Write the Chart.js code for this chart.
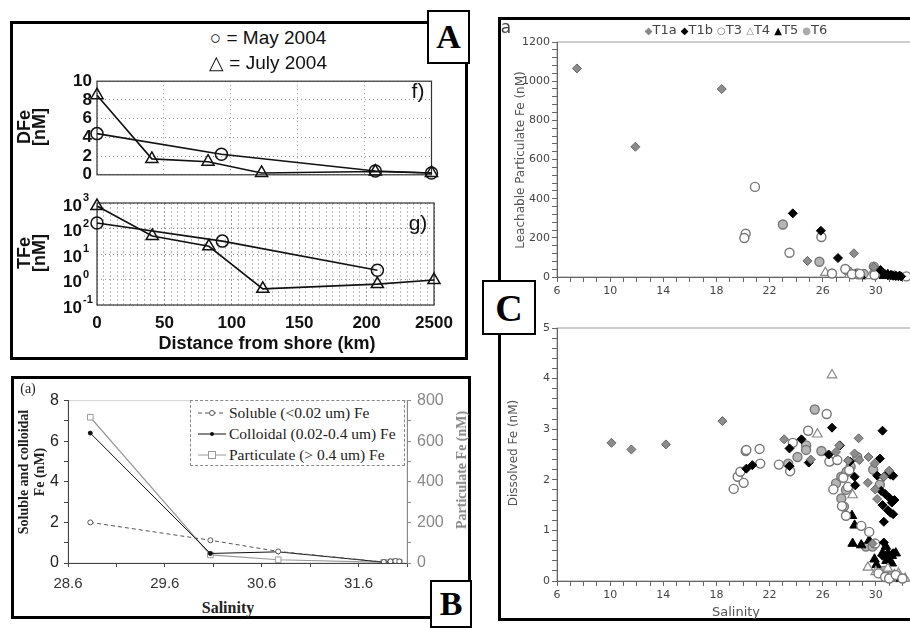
<!DOCTYPE html>
<html>
<head>
<meta charset="utf-8">
<script src="https://cdn.jsdelivr.net/npm/chart.js@4.4.1/dist/chart.umd.min.js"></script>
<style>
  body { margin: 0; background: #fff; }
  #page { position: relative; width: 910px; height: 628px; overflow: hidden; background: #fff; }
  canvas { position: absolute; }
  .box { position: absolute; border: 3px solid #000; box-sizing: border-box; }
  .tag { position: absolute; border: 2px solid #000; background: #fff; box-sizing: border-box; z-index: 5;
         font: bold 34px "Liberation Serif", serif; display: flex; align-items: center; justify-content: center; }
  .t { position: absolute; white-space: nowrap; transform: translate(-50%, -50%); text-align: center; z-index: 4; }
  .rot { transform: translate(-50%, -50%) rotate(-90deg); }
  .hel { font-family: "Liberation Sans", Arial, sans-serif; color: #111; }
  .tim { font-family: "Liberation Serif", serif; color: #222; }
  .ver { font-family: "DejaVu Sans", Verdana, sans-serif; color: #444; }
  #blegend { position: absolute; left: 190px; top: 400px; width: 215px; height: 66px; box-sizing: border-box;
             border: 1.5px dashed #888; font: 15.5px "Liberation Serif", serif; color: #222; padding: 1px 0 0 7px;
             white-space: nowrap; background: #fff; }
  #blegend div { height: 21px; display: flex; align-items: center; }
  #blegend svg { margin-right: 3px; }
</style>
</head>
<body>
<div id="page">
  <div class="box" style="left:10px;top:21px;width:458px;height:339px"></div>
  <div class="box" style="left:11px;top:376px;width:460px;height:243px"></div>
  <div class="box" style="left:498px;top:17px;width:430px;height:604px"></div>

  <canvas id="cf" width="420" height="124" style="left:20px;top:66px"></canvas>
  <canvas id="cg" width="444" height="155" style="left:20px;top:190px"></canvas>
  <canvas id="cb" width="460" height="208" style="left:12px;top:385px"></canvas>
  <canvas id="cc1" width="440" height="272" style="left:499px;top:30px"></canvas>
  <canvas id="cc2" width="440" height="290" style="left:499px;top:316px"></canvas>

  <!-- panel A texts -->
  <div class="t hel" style="left:268px;top:38px;font-size:19px">○ = May 2004</div>
  <div class="t hel" style="left:268px;top:62px;font-size:19px">△ = July 2004</div>
  <div class="t hel" style="left:418px;top:91px;font-size:21px">f)</div>
  <div class="t hel" style="left:418px;top:223px;font-size:21px">g)</div>
  <div class="t hel rot" style="left:32px;top:127px;font-weight:bold;font-size:18px;line-height:15px">DFe<br>[nM]</div>
  <div class="t hel rot" style="left:32px;top:253px;font-weight:bold;font-size:18px;line-height:15px">TFe<br>[nM]</div>
  <div class="t hel" style="left:267px;top:343px;font-weight:bold;font-size:18px">Distance from shore (km)</div>

  <!-- panel B texts -->
  <div class="t tim" style="left:28px;top:389px;font-size:14px">(a)</div>
  <div class="t tim rot" style="left:32px;top:472px;font-weight:bold;font-size:14px;line-height:16px">Soluble and colloidal<br>Fe (nM)</div>
  <div class="t tim rot" style="left:462px;top:470px;font-weight:bold;font-size:14px;color:#888">Particulate Fe (nM)</div>
  <div class="t tim" style="left:228px;top:608px;font-weight:bold;font-size:16px">Salinity</div>
  <div id="blegend">
    <div><svg width="28" height="10"><line x1="0" y1="5" x2="28" y2="5" stroke="#555" stroke-width="1" stroke-dasharray="4,3"/><circle cx="14" cy="5" r="2.5" fill="#fff" stroke="#555"/></svg>Soluble (&lt;0.02 um) Fe</div>
    <div><svg width="28" height="10"><line x1="0" y1="5" x2="28" y2="5" stroke="#111" stroke-width="1"/><circle cx="14" cy="5" r="2" fill="#111"/></svg>Colloidal (0.02-0.4 um) Fe</div>
    <div><svg width="28" height="10"><line x1="0" y1="5" x2="28" y2="5" stroke="#999" stroke-width="1"/><rect x="10.5" y="1.5" width="7" height="7" fill="#fff" stroke="#999"/></svg>Particulate (&gt; 0.4 um) Fe</div>
  </div>

  <!-- panel C texts -->
  <div class="t ver" style="left:506px;top:27px;font-size:17px">a</div>
  <div class="t ver" style="left:736px;top:29px;font-size:13px">
    <span style="color:#888;font-size:10px">◆</span>T1a <span style="color:#000;font-size:10px">◆</span>T1b
    <span style="color:#777;font-size:10px">○</span>T3 <span style="color:#888;font-size:10px">△</span>T4
    <span style="color:#000;font-size:10px">▲</span>T5 <span style="color:#aaa;font-size:10px">●</span>T6
  </div>
  <div class="t ver rot" style="left:520px;top:160px;font-size:12px;color:#555">Leachable Particulate Fe (nM)</div>
  <div class="t ver rot" style="left:513px;top:453px;font-size:12px;color:#555">Dissolved Fe (nM)</div>
  <div class="t ver" style="left:736px;top:611px;font-size:13px;color:#555">Salinity</div>

  <div class="tag" style="left:427px;top:10px;width:43px;height:54px">A</div>
  <div class="tag" style="left:430px;top:580px;width:42px;height:48px">B</div>
  <div class="tag" style="left:482px;top:280px;width:54px;height:55px;font-size:38px">C</div>
</div>

<script>
// ---- panel A: distance from shore ----
const distTickVals = [0, 50, 100, 150, 200, 250];
const distTickLabels = ['0', '50', '100', '150', '200', '2500'];
const dfeTicks = [0, 2, 4, 6, 8, 10];
const tfeTickVals = [0.1, 1, 10, 100, 1000];
const tfeTickExp = ['-1', '0', '1', '2', '3'];

const mayDFe = [[0, 4.4], [93, 2.2], [208, 0.4], [250, 0.2]];
const julyDFe = [[0, 8.5], [41, 1.7], [83, 1.4], [123, 0.2], [208, 0.35], [250, 0.2]];
const mayTFe = [[0, 165], [93, 32], [208, 2.3]];
const julyTFe = [[0, 760], [41, 51], [83, 20], [123, 0.43], [208, 0.66], [250, 0.95]];

// ---- panel B: size fractions vs salinity ----
const salTicks = [28.6, 29.1, 29.6, 30.1, 30.6, 31.1, 31.6, 32.1];
const salLabels = [28.6, 29.6, 30.6, 31.6];
const solColTicks = [0, 1, 2, 3, 4, 5, 6, 7, 8];
const solColLabels = [0, 2, 4, 6, 8];
const partTicks = [0, 100, 200, 300, 400, 500, 600, 700, 800];
const partLabels = [0, 200, 400, 600, 800];

const solubleFe = [[28.83, 2.0], [30.07, 1.12], [30.77, 0.57], [31.86, 0.05], [31.93, 0.08], [31.98, 0.1], [32.02, 0.08]];
const colloidalFe = [[28.83, 6.4], [30.07, 0.47], [30.77, 0.55], [31.86, 0.04], [31.93, 0.06], [31.98, 0.07], [32.02, 0.05]];
const particulateFe = [[28.83, 718], [30.07, 40], [30.77, 16], [31.86, 3], [31.93, 5], [31.98, 6], [32.02, 4]];

// ---- panel C: stations T1a..T6, [salinity, Fe] ----
const t1aPart = [[7.5, 1065], [11.9, 665], [18.4, 960], [24.85, 82], [28.35, 121], [29.85, 50]];
const t1bPart = [[23.75, 325], [25.86, 236], [27.15, 97], [30.35, 36], [30.7, 14], [30.9, 9], [31.1, 10], [31.3, 6], [31.5, 5], [31.7, 4], [31.9, 3]];
const t3Part = [[20.9, 460], [20.2, 221], [20.1, 199], [23.5, 124], [25.9, 204], [26.7, 18], [27.7, 41], [28.2, 14], [28.8, 16], [29.9, 10], [32.3, 3]];
const t4Part = [[26.2, 22], [28.0, 12], [28.6, 8], [29.6, 6], [31.4, 4]];
const t5Part = [[28.5, 8], [28.9, 5], [30.6, 6], [30.9, 12], [31.2, 5], [31.5, 3], [31.8, 2]];
const t6Part = [[23.0, 268], [25.75, 78], [27.9, 30], [28.6, 18], [29.1, 15], [29.85, 53], [30.1, 25]];

const t1aDiss = [[10.1, 2.73], [11.6, 2.60], [14.2, 2.70], [18.45, 3.16], [23.1, 2.80], [25.1, 2.40], [27.0, 2.55],
  [27.25, 2.68], [27.9, 2.38], [28.4, 2.52], [28.7, 2.82], [28.75, 2.39], [29.45, 2.45], [29.4, 1.94], [29.9, 2.32],
  [29.95, 1.81], [30.1, 1.62], [30.6, 2.06], [31.0, 2.18], [29.75, 0.74]];
const t1bDiss = [[20.25, 2.22], [20.7, 2.29], [23.5, 2.62], [23.5, 2.27], [24.4, 2.80], [24.95, 2.34], [26.7, 3.03],
  [26.45, 2.50], [27.3, 2.68], [28.05, 2.36], [28.4, 2.06], [28.45, 1.89], [30.3, 2.42], [30.5, 2.97], [30.1, 2.08],
  [30.6, 2.06], [30.9, 2.13], [31.1, 2.10], [31.3, 2.08], [30.4, 1.78], [30.7, 1.72], [31.0, 1.65], [31.2, 1.55],
  [31.4, 1.60], [30.5, 1.50], [30.9, 1.40], [31.1, 1.35], [31.3, 1.32], [30.6, 1.17], [30.6, 0.76], [30.5, 0.50],
  [30.9, 0.45], [31.3, 0.55]];
const t3Diss = [[19.3, 1.82], [19.6, 2.06], [19.8, 2.16], [20.05, 1.94], [20.25, 2.59], [21.25, 2.61], [21.3, 2.32],
  [22.7, 2.30], [23.55, 2.17], [23.75, 2.73], [24.9, 2.97], [26.3, 3.30], [26.5, 2.36], [26.8, 1.81], [27.1, 2.39],
  [27.45, 1.48], [27.75, 1.29], [27.55, 2.04], [27.9, 1.86], [28.0, 2.19], [28.9, 1.09], [29.5, 0.97], [29.95, 0.74],
  [30.2, 0.15], [30.7, 0.08], [31.0, 0.05], [31.5, 0.12], [32.0, 0.05]];
const t4Diss = [[26.7, 4.07], [25.6, 2.90], [28.25, 1.70], [29.4, 0.27], [30.0, 0.18], [30.4, 0.15], [30.9, 0.25],
  [31.4, 0.12], [31.7, 0.15], [32.2, 0.05]];
const t5Diss = [[28.2, 1.29], [28.4, 1.10], [28.25, 0.74], [28.9, 0.71], [29.5, 0.80], [29.9, 0.43], [30.05, 0.32],
  [30.75, 0.68], [30.5, 0.55], [30.9, 0.55], [31.2, 0.50], [31.5, 0.55], [30.8, 0.40], [31.2, 0.35], [31.4, 0.12], [31.9, 0.05]];
const t6Diss = [[20.2, 2.57], [23.4, 2.32], [24.1, 2.45], [24.75, 2.68], [25.4, 3.39], [24.75, 2.59], [25.9, 2.57],
  [26.55, 2.37], [27.0, 1.93], [27.4, 1.63], [27.4, 2.06], [27.75, 1.80], [27.8, 2.16], [28.1, 2.26], [28.6, 2.45],
  [27.6, 1.47], [29.25, 0.68], [29.75, 0.68], [29.8, 2.2], [30.3, 1.9], [30.6, 0.2], [31.1, 0.1], [31.6, 0.08]];

const salCTicks = [];
for (let v = 6; v <= 34; v++) salCTicks.push(v);
const partCTicks = [];
for (let v = 0; v <= 1200; v += 40) partCTicks.push(v);
const dissCTicks = [];
for (let i = 0; i <= 25; i++) dissCTicks.push(i / 5);
const gridXTicks = [];
for (let v = 0; v <= 250; v += 5) gridXTicks.push(v);

const pts = arr => arr.map(([x, y]) => ({ x, y }));
const setTicks = vals => scale => { scale.ticks = vals.map(v => ({ value: v })); };
const fixW = w => scale => { scale.width = w; };
const fixH = h => scale => { scale.height = h; };

function strokeFrame(chart, opts) {
  if (!opts || !opts.color) return;
  const a = chart.chartArea, ctx = chart.ctx;
  ctx.save();
  ctx.strokeStyle = opts.color;
  ctx.lineWidth = opts.width || 1;
  ctx.strokeRect(a.left, a.top, a.right - a.left, a.bottom - a.top);
  ctx.restore();
}
Chart.register({
  id: 'frame',
  beforeDraw(chart, args, opts) { if (opts.early) strokeFrame(chart, opts); },
  beforeDatasetsDraw(chart, args, opts) { if (!opts.early) strokeFrame(chart, opts); }
});

Chart.defaults.animation = false;
Chart.defaults.responsive = false;
Chart.defaults.devicePixelRatio = 1;
Chart.defaults.events = [];
Chart.defaults.plugins.legend.display = false;
Chart.defaults.plugins.tooltip.enabled = false;

const helBold = { family: '"Liberation Sans", Arial, sans-serif', size: 17, weight: 'bold' };

// ---------- A f) ----------
function lineSet(data, style, radius) {
  return {
    data: pts(data), borderColor: '#111', borderWidth: 1.6, pointStyle: style, pointRadius: radius,
    pointBorderColor: '#111', pointBorderWidth: 1.5, pointBackgroundColor: 'rgba(0,0,0,0)', tension: 0, clip: false
  };
}
new Chart(document.getElementById('cf'), {
  type: 'line',
  data: { datasets: [lineSet(mayDFe, 'circle', 6), lineSet(julyDFe, 'triangle', 7)] },
  options: {
    layout: { padding: { top: 12, right: 6, left: 0, bottom: 0 } },
    plugins: { frame: { color: '#333', width: 1.2 } },
    scales: {
      x: {
        type: 'linear', min: 0, max: 250,
        afterBuildTicks: setTicks(distTickVals), afterFit: fixH(12),
        ticks: { display: false },
        grid: { color: '#999', drawTicks: false }, border: { display: false, dash: [1, 3] }
      },
      y: {
        min: 0, max: 10,
        afterBuildTicks: setTicks(dfeTicks), afterFit: fixW(77),
        ticks: { autoSkip: false, font: helBold, color: '#111', padding: 5 },
        grid: { color: '#999', drawTicks: false }, border: { display: false, dash: [1, 3] }
      }
    }
  }
});

// ---------- A g) ----------
new Chart(document.getElementById('cg'), {
  type: 'line',
  data: { datasets: [lineSet(mayTFe, 'circle', 6), lineSet(julyTFe, 'triangle', 7)] },
  options: {
    layout: { padding: { top: 13, right: 30, left: 0, bottom: 0 } },
    plugins: { frame: { color: '#333', width: 1.2 } },
    scales: {
      x: {
        type: 'linear', min: 0, max: 250,
        afterBuildTicks: setTicks(gridXTicks), afterFit: fixH(40),
        ticks: {
          autoSkip: false, maxRotation: 0, font: helBold, color: '#111', padding: 8,
          callback: v => { const i = distTickVals.indexOf(v); return i < 0 ? '' : distTickLabels[i]; }
        },
        grid: { color: c => (c.tick && c.tick.value % 50 === 0 ? '#999' : '#bbb'), drawTicks: false },
        border: { display: false, dash: [2, 2] }
      },
      y: {
        type: 'logarithmic', min: 0.1, max: 1000,
        afterBuildTicks: setTicks(tfeTickVals), afterFit: fixW(77),
        ticks: { autoSkip: false, callback: () => '' },
        grid: { color: '#999', drawTicks: false }, border: { display: false, dash: [1, 3] }
      }
    }
  },
  plugins: [{
    id: 'expLabels',
    afterDraw(chart) {
      const s = chart.scales.y, ctx = chart.ctx;
      ctx.save();
      ctx.fillStyle = '#111';
      ctx.textBaseline = 'middle';
      tfeTickVals.forEach((v, i) => {
        const y = s.getPixelForValue(v);
        ctx.font = 'bold 17px "Liberation Sans", Arial, sans-serif';
        ctx.textAlign = 'right';
        ctx.fillText('10', s.right - 15, y + 3);
        ctx.font = 'bold 11px "Liberation Sans", Arial, sans-serif';
        ctx.textAlign = 'left';
        ctx.fillText(tfeTickExp[i], s.right - 14, y - 5);
      });
      ctx.restore();
    }
  }]
});

// ---------- B ----------
const arial = { family: '"Liberation Sans", Arial, sans-serif', size: 15 };
new Chart(document.getElementById('cb'), {
  type: 'line',
  data: {
    datasets: [
      { data: pts(solubleFe), yAxisID: 'y', borderColor: '#555', borderWidth: 1, borderDash: [4, 3],
        pointRadius: 2.5, pointBackgroundColor: '#fff', pointBorderColor: '#555', pointBorderWidth: 1 },
      { data: pts(colloidalFe), yAxisID: 'y', borderColor: '#111', borderWidth: 1,
        pointRadius: 2, pointBackgroundColor: '#111', pointBorderColor: '#111' },
      { data: pts(particulateFe), yAxisID: 'y2', borderColor: '#999', borderWidth: 1.2, pointStyle: 'rect',
        pointRadius: 4, pointBackgroundColor: '#fff', pointBorderColor: '#999', pointBorderWidth: 1 }
    ]
  },
  options: {
    layout: { padding: { top: 13, right: 0, left: 0, bottom: 0 } },
    plugins: { frame: { color: '#d4d4d4', width: 1, early: true } },
    scales: {
      x: {
        type: 'linear', min: 28.6, max: 32.1,
        afterBuildTicks: setTicks(salTicks), afterFit: fixH(30),
        ticks: { autoSkip: false, maxRotation: 0, font: arial, color: '#333', padding: 8,
                 callback: v => (salLabels.includes(v) ? v.toFixed(1) : '') },
        grid: { drawOnChartArea: false, tickLength: 4, color: '#444' }, border: { color: '#444' }
      },
      y: {
        position: 'left', min: 0, max: 8,
        afterBuildTicks: setTicks(solColTicks), afterFit: fixW(56),
        ticks: { autoSkip: false, font: { ...arial, size: 16 }, color: '#222', padding: 5,
                 callback: v => (solColLabels.includes(v) ? String(v) : '') },
        grid: { drawOnChartArea: false, tickLength: 4, color: '#444' }, border: { color: '#444' }
      },
      y2: {
        position: 'right', min: 0, max: 800,
        afterBuildTicks: setTicks(partTicks), afterFit: fixW(65),
        ticks: { autoSkip: false, font: { ...arial, size: 16 }, color: '#888', padding: 6,
                 callback: v => (partLabels.includes(v) ? String(v) : '') },
        grid: { drawOnChartArea: false, tickLength: 4, color: '#888' }, border: { color: '#888' }
      }
    }
  }
});

// ---------- C ----------
const verd = { family: '"DejaVu Sans", Verdana, sans-serif', size: 11 };
function stationSets(t1a, t1b, t3, t4, t5, t6) {
  return [
    { data: pts(t1a), pointStyle: 'rectRot', pointRadius: 4.5, pointBackgroundColor: '#8c8c8c', pointBorderColor: '#666', pointBorderWidth: 1 },
    { data: pts(t1b), pointStyle: 'rectRot', pointRadius: 4.5, pointBackgroundColor: '#000', pointBorderColor: '#000', pointBorderWidth: 1 },
    { data: pts(t3), pointStyle: 'circle', pointRadius: 4.5, pointBackgroundColor: '#fff', pointBorderColor: '#777', pointBorderWidth: 1.4 },
    { data: pts(t4), pointStyle: 'triangle', pointRadius: 5.5, pointBackgroundColor: '#fff', pointBorderColor: '#888', pointBorderWidth: 1.2 },
    { data: pts(t5), pointStyle: 'triangle', pointRadius: 5.5, pointBackgroundColor: '#000', pointBorderColor: '#000', pointBorderWidth: 1 },
    { data: pts(t6), pointStyle: 'circle', pointRadius: 4.5, pointBackgroundColor: '#b5b5b5', pointBorderColor: '#777', pointBorderWidth: 1.4 }
  ].map(d => ({ ...d, clip: false }));
}
function cOptions(ymax, yTicks, isLabel) {
  return {
    layout: { padding: { top: 12, right: 9, left: 0, bottom: 0 } },
    plugins: { frame: { color: '#999', width: 1, early: true } },
    scales: {
      x: {
        type: 'linear', min: 6, max: 34,
        afterBuildTicks: setTicks(salCTicks), afterFit: fixH(25),
        ticks: { autoSkip: false, maxRotation: 0, font: verd, color: '#444', padding: 3,
                 callback: v => ((v - 6) % 4 === 0 ? String(v) : '') },
        grid: { drawOnChartArea: false, tickLength: 5, color: '#666' }, border: { color: '#666' }
      },
      y: {
        min: 0, max: ymax,
        afterBuildTicks: setTicks(yTicks), afterFit: fixW(58),
        ticks: { autoSkip: false, font: verd, color: '#444', padding: 2,
                 callback: v => (isLabel(v) ? String(Math.round(v)) : '') },
        grid: { drawOnChartArea: false, tickLength: 5, color: '#666' }, border: { color: '#666' }
      }
    }
  };
}
new Chart(document.getElementById('cc1'), {
  type: 'scatter',
  data: { datasets: stationSets(t1aPart, t1bPart, t3Part, t4Part, t5Part, t6Part) },
  options: cOptions(1200, partCTicks, v => v % 200 === 0)
});
new Chart(document.getElementById('cc2'), {
  type: 'scatter',
  data: { datasets: stationSets(t1aDiss, t1bDiss, t3Diss, t4Diss, t5Diss, t6Diss) },
  options: cOptions(5, dissCTicks, v => Math.abs(v - Math.round(v)) < 1e-6)
});
</script>
</body>
</html>
